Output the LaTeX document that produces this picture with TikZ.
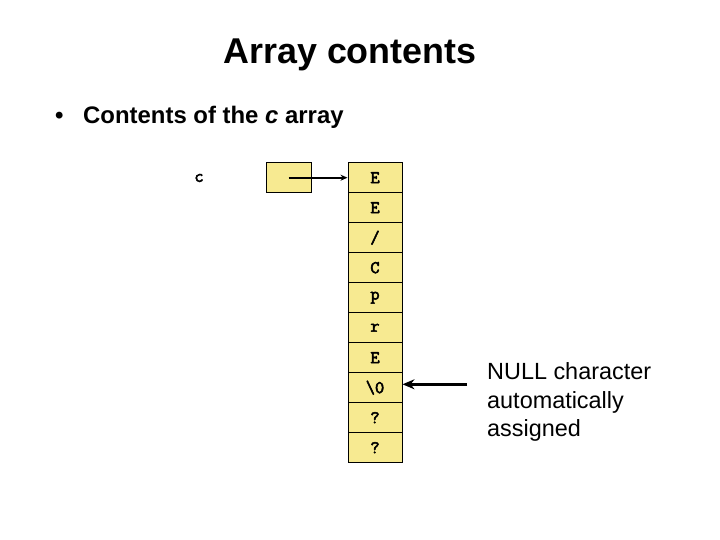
\documentclass[tikz,border=0pt]{standalone}
\usepackage{fontspec}
\setmainfont{Liberation Sans}
\newfontfamily\monob{Latin Modern Mono}[FakeBold=3]
\usetikzlibrary{arrows.meta}
\definecolor{cellyel}{RGB}{247,234,145}
\begin{document}
\begin{tikzpicture}[x=1bp,y=-1bp,
  monotext/.style={font=\monob\fontsize{18}{20}\selectfont},
  cellbox/.style={draw=black,line width=1bp,fill=cellyel,minimum width=54bp,minimum height=30bp,inner sep=0pt,monotext},
  ptrbox/.style={draw=black,line width=1bp,fill=cellyel,minimum width=45bp,minimum height=30bp,inner sep=0pt},
  ptrarrow/.style={line width=1.8bp,-{Stealth[length=7bp,width=6bp]}},
  nullarrow/.style={line width=3bp,-{Stealth[length=12bp,width=10bp]}}]
\useasboundingbox (0,0) rectangle (720,540);
\node[font=\bfseries\fontsize{36}{40}\selectfont,anchor=base] (title) at (350,64) {Array contents};
\node[font=\bfseries\fontsize{24}{28}\selectfont,anchor=base west,inner sep=0pt] (bul) at (55,124) {•};
\node[font=\bfseries\fontsize{24}{28}\selectfont,anchor=base west,inner sep=0pt] (btext) at (83,124) {Contents of the \textit{c} array};
\node[monotext] (clab) at (199,178) {c};
\node[ptrbox] (ptr) at (288.7,177.7) {};
\foreach \ch [count=\i] in {E,E,/,C,p,r,E,{\textbackslash0},?,?} {
  \node[cellbox] (cell\i) at (375,{162.7+30*(\i-1)+15}) {\ch};
}
\coordinate (ptrc) at (ptr.center);
\draw[ptrarrow] (ptrc) -- (cell1.west);
\node[font=\fontsize{23.5}{29}\selectfont,align=left,anchor=west,inner sep=0pt] (nulltext) at (487,402) {NULL character\\automatically\\assigned};
\coordinate (nullstart) at (467,384.3);
\draw[nullarrow] (nullstart) -- (cell8.east |- nullstart);
\end{tikzpicture}
\end{document}
